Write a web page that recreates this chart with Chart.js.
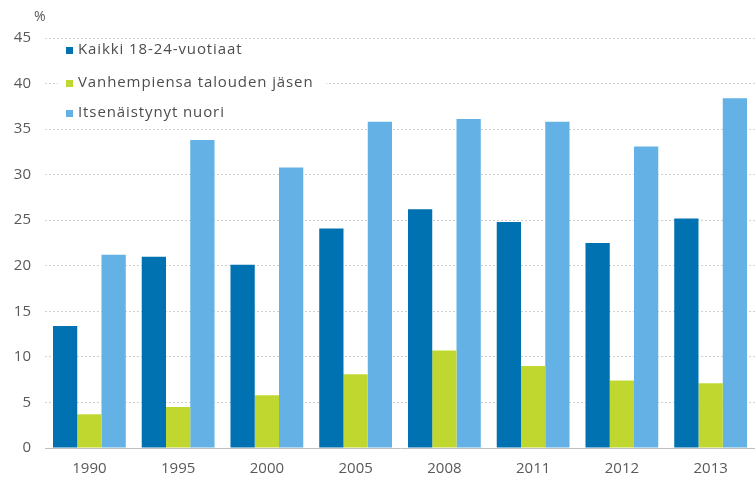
<!DOCTYPE html>
<html>
<head>
<meta charset="utf-8">
<script src="https://cdn.jsdelivr.net/npm/chart.js@4/dist/chart.umd.min.js"></script>
<style>
  html, body { margin: 0; padding: 0; background: #fff; }
  #wrap { width: 755px; height: 479px; }
</style>
</head>
<body>
<div id="wrap"><canvas id="myChart" width="755" height="479"></canvas></div>
<script>
// Data
const vuodet = ["1990", "1995", "2000", "2005", "2008", "2011", "2012", "2013"];
const kaikki = [13.4, 21.0, 20.1, 24.1, 26.2, 24.8, 22.5, 25.2];
const vanhempiensa = [3.7, 4.5, 5.8, 8.1, 10.7, 9.0, 7.4, 7.1];
const itsenaistynyt = [21.2, 33.8, 30.8, 35.8, 36.1, 35.8, 33.1, 38.4];
const sarjanimet = ["Kaikki 18-24-vuotiaat", "Vanhempiensa talouden jäsen", "Itsenäistynyt nuori"];
const yTicks = [0, 5, 10, 15, 20, 25, 30, 35, 40, 45];

const colors = ["#0072b1", "#c0d730", "#63b1e5"];
const fontName = "'Open Sans', 'DejaVu Sans', sans-serif";

// Legend drawn inside the plot, plus the "%" unit label
const overlay = {
  id: "overlay",
  afterDraw(chart) {
    const ctx = chart.ctx;
    ctx.save();
    ctx.font = "14px " + fontName;
    ctx.fillStyle = "#595959";
    ctx.textBaseline = "middle";
    ctx.textAlign = "left";
    ctx.fillText("%", 34, 17);

    const rows = [50, 83, 113];
    ctx.fillStyle = "#fff";
    ctx.fillRect(58, 40, 268, 86);
    ctx.font = "15px " + fontName;
    chart.data.datasets.forEach((ds, i) => {
      const y = rows[i];
      ctx.fillStyle = ds.backgroundColor;
      ctx.fillRect(66, y - 3, 7, 7);
      ctx.fillStyle = "#4d4d4d";
      ctx.letterSpacing = "0.9px";
      ctx.fillText(ds.label, 78, y);
    });
    ctx.restore();
  }
};

function renderGrafica() {
  const data = {
    labels: vuodet,
    datasets: [kaikki, vanhempiensa, itsenaistynyt].map((values, i) => ({
      label: sarjanimet[i],
      data: values,
      backgroundColor: colors[i],
      borderWidth: 0,
      barPercentage: 1.0,
      categoryPercentage: 0.82
    }))
  };

  const config = {
    type: "bar",
    data,
    options: {
      responsive: false,
      animation: false,
      layout: { padding: { top: 38, right: 0, left: 0, bottom: 0 } },
      plugins: { legend: { display: false }, tooltip: { enabled: false } },
      scales: {
        x: {
          grid: { display: false },
          border: { display: true, color: "#bfbfbf", width: 1 },
          ticks: { color: "#595959", font: { family: fontName, size: 15 }, padding: 4 },
          afterFit: s => { s.height = 31; }
        },
        y: {
          min: 0,
          max: 45,
          afterBuildTicks: s => { s.ticks = yTicks.map(v => ({ value: v })); },
          grid: { color: "#d0d0d0", drawTicks: false, lineWidth: 1 },
          border: { display: false, dash: [2, 2] },
          ticks: { color: "#595959", font: { family: fontName, size: 15 }, padding: 14 },
          afterFit: s => { s.width = 45; }
        }
      }
    },
    plugins: [overlay]
  };
  new Chart(document.querySelector("#myChart"), config);
}

renderGrafica();
</script>
</body>
</html>
